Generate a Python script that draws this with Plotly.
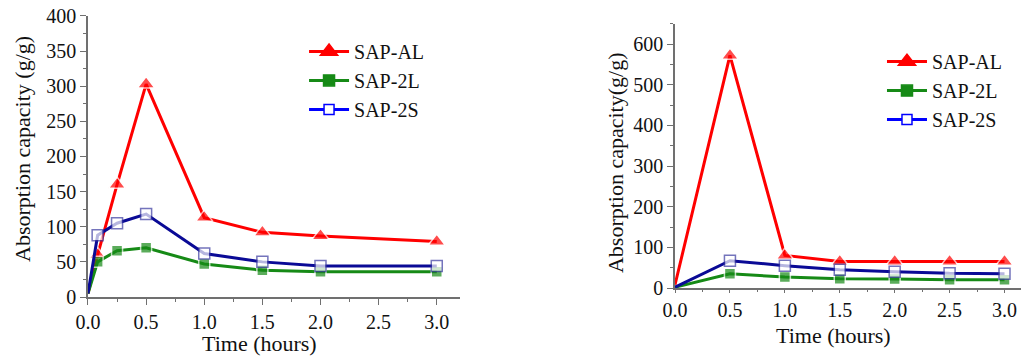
import plotly.graph_objects as go

# ---- Data: left panel ----
time_left = [0, 0.083, 0.25, 0.5, 1.0, 1.5, 2.0, 3.0]
al_left = [5, 60, 160, 303, 113, 92, 87, 79]
l2_left = [5, 50, 66, 70, 47, 38, 36, 36]
s2_left = [5, 88, 105, 118, 62, 50, 44, 44]

# ---- Data: right panel ----
time_right = [0, 0.5, 1.0, 1.5, 2.0, 2.5, 3.0]
al_right = [8, 572, 80, 65, 65, 65, 65]
l2_right = [2, 35, 27, 23, 22, 20, 20]
s2_right = [2, 67, 55, 45, 40, 36, 35]

names = ["SAP-AL", "SAP-2L", "SAP-2S"]
x_ticks = [0.0, 0.5, 1.0, 1.5, 2.0, 2.5, 3.0]
x_ticklabels = ["0.0", "0.5", "1.0", "1.5", "2.0", "2.5", "3.0"]
x_title = "Time (hours)"
y_title_left = "Absorption capacity (g/g)"
y_title_right = "Absorption capacity(g/g)"

RED = "#ff0000"
GREEN = "#168a16"
NAVY = "#0a0a96"
BLUE = "#0000ff"
FONT = "Liberation Serif, Times New Roman, serif"

W, H = 1022, 360

fig = go.Figure()

def add_series(x, ys, xa, ya):
    styles = [
        dict(color=RED, symbol="triangle-up", size=15, fill=RED, lc="white"),
        dict(color=GREEN, symbol="square", size=11, fill=GREEN, lc="white"),
        dict(color=NAVY, symbol="square", size=11, fill="white", lc="#3a3aa0"),
    ]
    for y, st, nm in zip(ys, styles, names):
        sizes = [0] + [st["size"]] * (len(x) - 1)
        fig.add_trace(go.Scatter(
            x=x, y=y, mode="lines+markers", name=nm, showlegend=False,
            xaxis=xa, yaxis=ya, cliponaxis=False,
            line=dict(color=st["color"], width=3),
            marker=dict(symbol=st["symbol"], size=sizes, color=st["fill"],
                        line=dict(color=st["lc"], width=1.5)),
        ))

add_series(time_left, [al_left, l2_left, s2_left], "x", "y")
add_series(time_right, [al_right, l2_right, s2_right], "x2", "y2")

# legend entries (brighter blue in legend as in the original)
leg_styles = [
    (RED, "triangle-up", 15, RED),
    (GREEN, "square", 11, GREEN),
    (BLUE, "square", 10, "white"),
]
for lg in ["legend", "legend2"]:
    for nm, (c, sym, sz, fill) in zip(names, leg_styles):
        fig.add_trace(go.Scatter(
            x=[None], y=[None], mode="lines+markers", name=nm, legend=lg,
            xaxis="x" if lg == "legend" else "x2", yaxis="y" if lg == "legend" else "y2",
            line=dict(color=c, width=3),
            marker=dict(symbol=sym, size=sz, color=fill, line=dict(color=c, width=1.5)),
        ))

axis_common = dict(
    showline=True, linecolor="#707070", linewidth=1.5,
    ticks="outside", tickcolor="#707070", tickwidth=1.2,
    showgrid=False, zeroline=False, automargin=False,
    ticklabeloverflow="allow",
    tickfont=dict(family=FONT, size=20, color="#111"),
)
minor_common = dict(ticks="outside", ticklen=3, tickcolor="#707070", tick0=0)

fig.update_layout(
    width=W, height=H,
    margin=dict(l=0, r=0, t=0, b=0),
    paper_bgcolor="white", plot_bgcolor="white",
    font=dict(family=FONT, color="#111"),
    xaxis=dict(domain=[0.0861, 0.4501], range=[0, 3.2], anchor="y",
               tickvals=x_ticks, ticktext=x_ticklabels, ticklen=6,
               minor=dict(dtick=0.25, **minor_common),
               **axis_common),
    yaxis=dict(domain=[0.175, 0.9556], range=[0, 400], anchor="x",
               dtick=50, tick0=0, ticklen=6,
               minor=dict(dtick=25, **minor_common),
               **axis_common),
    xaxis2=dict(domain=[0.6605, 0.999], range=[0, 3.15], anchor="y2",
                tickvals=x_ticks, ticktext=x_ticklabels, ticklen=3,
                minor=dict(dtick=0.25, ticks="outside", ticklen=2, tickcolor="#707070", tick0=0),
                **axis_common),
    yaxis2=dict(domain=[0.2, 0.934], range=[0, 650], anchor="x2",
                dtick=100, tick0=0, ticklen=6,
                minor=dict(dtick=50, **minor_common),
                **axis_common),
    legend=dict(x=0.2975, y=0.9114, xanchor="left", yanchor="top",
                bgcolor="rgba(0,0,0,0)", font=dict(family=FONT, size=20, color="#111"),
                tracegroupgap=0, itemwidth=40),
    legend2=dict(x=0.863, y=0.883, xanchor="left", yanchor="top",
                 bgcolor="rgba(0,0,0,0)", font=dict(family=FONT, size=20, color="#111"),
                 tracegroupgap=0, itemwidth=40),
)

title_font = dict(family=FONT, size=22, color="#111")
fig.add_annotation(text=x_title, xref="paper", yref="paper", x=0.2539, y=0.0472,
                   xanchor="center", yanchor="middle", showarrow=False, font=title_font)
fig.add_annotation(text=x_title, xref="paper", yref="paper", x=0.816, y=0.0694,
                   xanchor="center", yanchor="middle", showarrow=False, font=title_font)
fig.add_annotation(text=y_title_left, xref="paper", yref="paper", x=0.0215, y=0.5861,
                   xanchor="center", yanchor="middle", textangle=-90, showarrow=False, font=title_font)
fig.add_annotation(text=y_title_right, xref="paper", yref="paper", x=0.6018, y=0.5472,
                   xanchor="center", yanchor="middle", textangle=-90, showarrow=False, font=title_font)

# remove the page's default body margin so the 1022x360 figure fills the window exactly
post = ("document.body.style.margin='0';"
        "document.body.style.overflow='hidden';"
        "document.documentElement.style.overflow='hidden';")

fig.write_html("out.html", post_script=post, config={"displayModeBar": False})
